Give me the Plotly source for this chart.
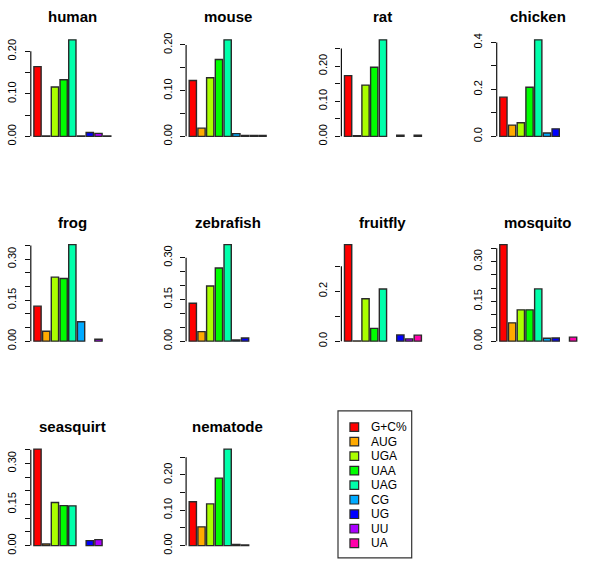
import plotly.graph_objects as go

W, H = 600, 575

categories = ["G+C%", "AUG", "UGA", "UAA", "UAG", "CG", "UG", "UU", "UA"]
colors = ["#FF0000", "#FFAA00", "#AAFF00", "#00FF00", "#00FFAA",
          "#00AAFF", "#0000FF", "#AA00FF", "#FF00AA"]
species = ["human", "mouse", "rat", "chicken", "frog", "zebrafish",
           "fruitfly", "mosquito", "seasquirt", "nematode"]

# values per species (None = not present)
human = [0.164, 0.001, 0.116, 0.133, 0.227, 0.001, 0.009, 0.007, 0.001]
mouse = [0.122, 0.018, 0.128, 0.168, 0.211, 0.006, 0.002, 0.002, 0.002]
rat = [0.173, 0.002, 0.146, 0.197, 0.275, None, 0.003, None, 0.003]
chicken = [0.167, 0.048, 0.058, 0.209, 0.411, 0.014, 0.032, None, None]
frog = [0.128, 0.036, 0.234, 0.229, 0.353, 0.071, None, 0.007, None]
zebrafish = [0.136, 0.034, 0.198, 0.263, 0.347, 0.004, 0.011, None, None]
fruitfly = [0.387, 0.001, 0.170, 0.051, 0.209, None, 0.025, 0.009, 0.024]
mosquito = [0.364, 0.069, 0.118, 0.118, 0.197, 0.011, 0.012, None, 0.015]
seasquirt = [0.352, 0.006, 0.157, 0.146, 0.145, None, 0.018, 0.022, None]
nematode = [0.124, 0.053, 0.118, 0.191, 0.273, 0.003, 0.002, None, None]
values = [human, mouse, rat, chicken, frog, zebrafish,
          fruitfly, mosquito, seasquirt, nematode]

# y tick positions and labels per panel
tick_vals = [
    [0, 0.05, 0.10, 0.15, 0.20],
    [0, 0.05, 0.10, 0.15, 0.20],
    [0, 0.05, 0.10, 0.15, 0.20, 0.25],
    [0, 0.1, 0.2, 0.3, 0.4],
    [0, 0.05, 0.10, 0.15, 0.20, 0.25, 0.30, 0.35],
    [0, 0.05, 0.10, 0.15, 0.20, 0.25, 0.30],
    [0, 0.1, 0.2, 0.3],
    [0, 0.05, 0.10, 0.15, 0.20, 0.25, 0.30, 0.35],
    [0, 0.05, 0.10, 0.15, 0.20, 0.25, 0.30, 0.35],
    [0, 0.05, 0.10, 0.15, 0.20, 0.25],
]
tick_text = [
    ["0.00", "", "0.10", "", "0.20"],
    ["0.00", "", "0.10", "", "0.20"],
    ["0.00", "", "0.10", "", "0.20", ""],
    ["0.0", "", "0.2", "", "0.4"],
    ["0.00", "", "", "0.15", "", "", "0.30", ""],
    ["0.00", "", "", "0.15", "", "", "0.30"],
    ["0.0", "", "0.2", ""],
    ["0.00", "", "", "0.15", "", "", "0.30", ""],
    ["0.00", "", "", "0.15", "", "", "0.30", ""],
    ["0.00", "", "0.10", "", "0.20", ""],
]

FONT = "Arial, Liberation Sans, Helvetica, sans-serif"

col_x0 = [30.8 + 155.3 * c for c in range(4)]
row_zero = [135.0, 342.3, 549.3]
title_y = [14.0, 221.7, 428.3]
plot_w = 83.1
bar_px = 97.7

fig = go.Figure()
layout = dict(width=W, height=H, margin=dict(l=0, r=0, t=0, b=0),
              paper_bgcolor="white", plot_bgcolor="white", showlegend=False,
              font=dict(family=FONT, color="black"))
shapes = []
annotations = []

xcenters = [0.7 + 1.2 * i for i in range(len(categories))]

for k, (name, vals) in enumerate(zip(species, values)):
    r, c = divmod(k, 4)
    idx = k + 1
    xa = "x" if idx == 1 else f"x{idx}"
    ya = "y" if idx == 1 else f"y{idx}"
    M = max(v for v in vals if v is not None)
    x0 = col_x0[c]
    x1 = x0 + plot_w
    z = row_zero[r]
    top_px = z - 1.0404 * bar_px
    bot_px = z + 0.0504 * bar_px
    fig.add_trace(go.Bar(
        x=xcenters, y=vals, width=1.0,
        marker=dict(color=colors, line=dict(color="#2a2a2a", width=1.4)),
        xaxis=xa, yaxis=ya, hovertext=categories,
    ))
    layout["xaxis" + ("" if idx == 1 else str(idx))] = dict(
        domain=[x0 / W, x1 / W], range=[-0.224, 11.224],
        visible=False, fixedrange=True, anchor=ya)
    layout["yaxis" + ("" if idx == 1 else str(idx))] = dict(
        domain=[1 - bot_px / H, 1 - top_px / H],
        range=[-0.0504 * M, 1.0404 * M], anchor=xa,
        showgrid=False, zeroline=False, showline=False,
        tickmode="array", tickvals=tick_vals[k], ticktext=tick_text[k],
        ticks="outside", ticklen=5, tickwidth=1.2, tickcolor="#111111",
        tickangle=-90, tickfont=dict(family=FONT, size=11, color="black"),
        ticklabelstandoff=4, fixedrange=True)
    shapes.append(dict(type="line", xref=f"{xa} domain", yref=ya,
                       x0=0, x1=0, y0=0, y1=tick_vals[k][-1],
                       line=dict(color="#111111", width=1.2)))
    annotations.append(dict(text=f"<b>{name}</b>", xref="paper", yref="paper",
                            x=(x0 + plot_w / 2) / W, y=1 - title_y[r] / H,
                            xanchor="center", yanchor="middle", showarrow=False,
                            font=dict(family=FONT, size=15, color="black")))

# legend box (drawn manually)
lx0, ly0, lx1, ly1 = 338.0, 413.0, 411.7, 561.7
shapes.append(dict(type="rect", xref="paper", yref="paper",
                   x0=lx0 / W, x1=lx1 / W, y0=1 - ly1 / H, y1=1 - ly0 / H,
                   line=dict(color="#333333", width=1.2), fillcolor="white"))
sq = 8.7
for i, (cat, col) in enumerate(zip(categories, colors)):
    cy = 429.3 + 14.7 * i
    cx = 354.3
    shapes.append(dict(type="rect", xref="paper", yref="paper",
                       x0=(cx - sq / 2) / W, x1=(cx + sq / 2) / W,
                       y0=1 - (cy + sq / 2) / H, y1=1 - (cy - sq / 2) / H,
                       line=dict(color="#2a2a2a", width=1.2), fillcolor=col))
    annotations.append(dict(text=cat, xref="paper", yref="paper",
                            x=369.0 / W, y=1 - cy / H, xanchor="left",
                            yanchor="middle", showarrow=False,
                            font=dict(family=FONT, size=12, color="black")))

layout["shapes"] = shapes
layout["annotations"] = annotations
fig.update_layout(**layout)
fig.write_html("out.html", config={"displayModeBar": False},
               post_script="document.body.style.margin='0';"
                           "document.body.style.padding='0';")
